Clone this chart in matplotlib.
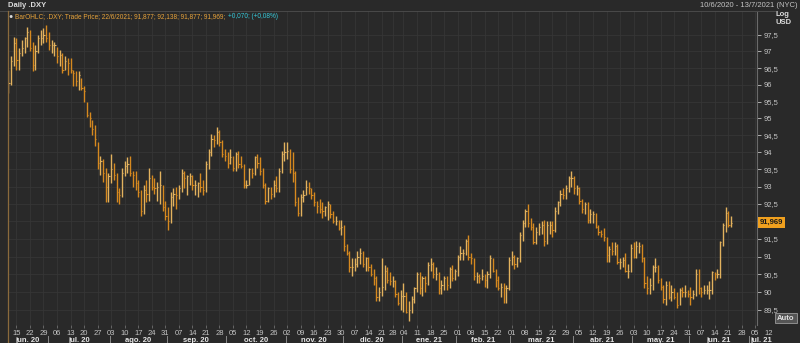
import numpy as np
import pandas as pd
import matplotlib
matplotlib.use("Agg")
import matplotlib.pyplot as plt
import matplotlib.transforms as mtransforms
from matplotlib.lines import Line2D

plt.rcParams['font.family'] = ['Liberation Sans', 'DejaVu Sans']

# Daily .DXY bars, 10/6/2020 .. 22/6/2021 (one row per month)
highs = [
    96.45, 96.85, 97.45, 97.40, 97.10, 97.35, 97.45, 97.75, 97.65, 97.30, 97.20, 97.50, 97.65, 97.70, 97.80,
    97.60, 97.35, 97.30, 97.15, 97.05, 96.95, 96.85, 96.80, 96.80, 96.45, 96.40, 96.40, 96.20, 95.95, 95.50, 95.20, 94.95, 94.80, 94.30, 93.90, 93.80, 93.55, 93.40,
    93.95, 93.70, 93.40, 92.95, 93.55, 93.75, 93.85, 93.90, 93.45, 93.45, 93.20, 92.90, 93.05, 93.20, 93.55, 93.35, 93.25, 93.15, 93.45, 93.05, 92.60,
    92.40, 92.85, 92.95, 93.00, 93.05, 93.50, 93.45, 93.35, 93.40, 93.35, 93.20, 93.15, 93.40, 93.20, 93.75, 94.10, 94.55, 94.50, 94.75, 94.65, 94.35, 94.10,
    94.00, 94.10, 93.90, 94.00, 94.05, 93.90, 93.65, 93.20, 93.55, 93.55, 93.90, 93.95, 93.85, 93.55, 93.10, 93.00, 93.00, 93.20, 93.30, 93.55, 94.05, 94.30,
    94.30, 94.10, 94.00, 93.45, 92.70, 92.80, 92.90, 93.20, 93.15, 92.95, 92.85, 92.60, 92.65, 92.55, 92.45, 92.60, 92.50, 92.30, 92.15, 92.05, 92.05,
    91.90, 91.35, 91.15, 90.95, 90.95, 91.15, 91.25, 91.15, 91.00, 91.00, 90.80, 90.65, 90.45, 90.15, 90.95, 90.75, 90.70, 90.55, 90.45, 90.35, 90.00, 90.05,
    90.25, 90.00, 89.75, 89.90, 90.15, 90.55, 90.55, 90.45, 90.45, 90.85, 90.95, 90.85, 90.70, 90.55, 90.35, 90.45, 90.45, 90.70, 90.75, 90.65,
    91.05, 91.30, 91.20, 91.50, 91.60, 91.10, 90.95, 90.55, 90.50, 90.65, 90.50, 90.60, 91.05, 90.95, 90.65, 90.45, 90.25, 90.25, 90.20, 91.00,
    91.15, 91.05, 91.00, 91.70, 92.05, 92.35, 92.50, 92.10, 91.95, 91.85, 91.95, 92.00, 92.05, 92.00, 92.00, 92.00, 92.40, 92.60, 92.90, 92.95, 93.05, 93.30, 93.45,
    93.30, 93.05, 93.00, 92.65, 92.55, 92.55, 92.35, 92.30, 92.25, 91.90, 91.75, 91.80, 91.55, 91.30, 91.40, 91.40, 91.35, 90.95, 91.00, 91.10, 90.80, 91.35,
    91.40, 91.45, 91.40, 91.35, 91.00, 90.45, 90.40, 90.75, 90.95, 90.75, 90.40, 90.20, 90.30, 90.30, 90.20, 90.10, 90.00, 90.10, 90.15, 90.20, 90.05,
    90.15, 90.05, 90.65, 90.65, 90.15, 90.20, 90.20, 90.30, 90.60, 90.55, 90.65, 91.45, 91.95, 92.40, 92.30, 92.15,
]
lows = [
    95.75, 96.00, 96.55, 96.45, 96.45, 96.85, 96.95, 97.15, 97.00, 96.40, 96.45, 96.95, 97.20, 97.25, 97.30,
    97.05, 96.95, 96.85, 96.65, 96.55, 96.35, 96.45, 96.30, 96.35, 95.95, 95.95, 95.85, 95.85, 95.50, 95.05, 94.75, 94.50, 94.20, 93.50, 93.35, 93.15, 92.55, 92.55,
    93.10, 93.20, 92.55, 92.50, 92.70, 93.30, 93.40, 93.30, 93.00, 92.90, 92.70, 92.15, 92.20, 92.55, 92.60, 92.90, 92.80, 92.60, 92.50, 92.30, 92.05,
    91.75, 91.95, 92.45, 92.35, 92.65, 92.85, 92.95, 92.75, 93.05, 92.90, 92.75, 92.70, 92.85, 92.75, 92.85, 93.50, 93.90, 94.15, 94.25, 94.20, 93.85, 93.75,
    93.55, 93.65, 93.45, 93.45, 93.55, 93.55, 92.95, 92.95, 93.05, 93.25, 93.35, 93.55, 93.35, 92.95, 92.50, 92.55, 92.65, 92.70, 92.85, 92.85, 93.40, 93.75,
    93.80, 93.40, 93.15, 92.45, 92.15, 92.15, 92.55, 92.75, 92.80, 92.65, 92.45, 92.25, 92.25, 92.10, 92.15, 92.05, 92.10, 91.95, 91.90, 91.75, 91.60,
    91.15, 91.05, 90.55, 90.45, 90.60, 90.70, 90.80, 90.70, 90.60, 90.60, 90.45, 90.20, 89.75, 89.75, 89.90, 90.05, 90.25, 90.20, 90.15, 89.85, 89.65, 89.50,
    89.45, 89.40, 89.20, 89.40, 89.70, 90.00, 89.95, 89.90, 90.00, 90.20, 90.60, 90.40, 90.35, 89.95, 89.95, 90.05, 90.05, 90.10, 90.30, 90.35,
    90.45, 90.90, 90.90, 91.05, 90.90, 90.80, 90.35, 90.25, 90.25, 90.35, 90.15, 90.10, 90.40, 90.55, 90.15, 90.05, 89.85, 89.70, 89.70, 90.05,
    90.75, 90.65, 90.70, 90.85, 91.45, 91.85, 91.85, 91.75, 91.35, 91.35, 91.60, 91.65, 91.30, 91.35, 91.65, 91.55, 91.70, 92.20, 92.45, 92.65, 92.65, 92.85, 93.00,
    92.80, 92.75, 92.50, 92.25, 92.20, 91.95, 91.95, 91.95, 91.80, 91.60, 91.55, 91.45, 90.85, 90.85, 91.05, 91.05, 90.80, 90.65, 90.70, 90.55, 90.40, 90.55,
    90.95, 90.95, 91.10, 90.85, 90.10, 89.95, 89.95, 90.05, 90.55, 90.25, 90.05, 89.70, 89.65, 89.80, 89.75, 89.80, 89.55, 89.65, 89.85, 89.85, 89.85,
    89.65, 89.80, 89.90, 89.95, 89.85, 89.95, 89.95, 89.80, 89.95, 90.35, 90.40, 90.40, 91.30, 91.70, 91.85, 91.85,
]
closes = [
    96.05, 96.70, 97.25, 96.75, 96.95, 97.10, 97.40, 97.60, 97.10, 96.60, 97.00, 97.40, 97.40, 97.50, 97.40,
    97.20, 97.20, 97.20, 96.85, 96.90, 96.45, 96.70, 96.65, 96.45, 96.35, 96.10, 96.30, 95.90, 95.80, 95.10, 95.00, 94.70, 94.40, 93.70, 93.75, 93.40, 93.00, 93.30,
    93.50, 93.35, 92.85, 92.75, 93.40, 93.60, 93.65, 93.40, 93.35, 93.10, 92.85, 92.30, 92.90, 92.80, 93.25, 93.00, 92.95, 93.00, 93.05, 92.40, 92.15,
    92.00, 92.70, 92.80, 92.75, 92.95, 93.40, 93.25, 93.30, 93.30, 93.05, 93.05, 93.10, 93.00, 92.90, 93.65, 94.00, 94.40, 94.35, 94.60, 94.30, 93.95, 93.90,
    93.70, 93.85, 93.55, 93.95, 93.65, 93.60, 93.05, 93.05, 93.50, 93.40, 93.85, 93.70, 93.45, 93.05, 92.60, 92.95, 92.80, 93.05, 92.95, 93.45, 93.95, 94.00,
    94.05, 93.50, 93.40, 92.55, 92.25, 92.70, 92.75, 93.00, 92.95, 92.75, 92.55, 92.45, 92.35, 92.30, 92.40, 92.50, 92.20, 92.00, 92.00, 91.80, 91.85,
    91.30, 91.10, 90.70, 90.70, 90.80, 91.00, 91.10, 90.80, 90.95, 90.70, 90.50, 90.40, 89.85, 90.00, 90.15, 90.60, 90.35, 90.30, 90.30, 89.95, 89.70, 89.90,
    89.90, 89.45, 89.50, 89.80, 90.10, 90.50, 90.10, 90.40, 90.25, 90.75, 90.80, 90.50, 90.50, 90.10, 90.20, 90.40, 90.20, 90.65, 90.40, 90.60,
    91.00, 91.10, 91.10, 91.45, 91.00, 90.95, 90.45, 90.45, 90.40, 90.45, 90.35, 90.50, 90.95, 90.60, 90.35, 90.10, 90.15, 90.10, 90.10, 90.90,
    91.00, 90.80, 90.95, 91.60, 91.95, 92.30, 91.95, 91.85, 91.40, 91.70, 91.85, 91.90, 91.45, 91.90, 91.90, 91.75, 92.30, 92.55, 92.80, 92.75, 92.95, 93.25, 93.25,
    92.95, 92.95, 92.60, 92.35, 92.50, 92.05, 92.20, 92.20, 91.85, 91.70, 91.65, 91.55, 91.05, 91.20, 91.15, 91.30, 90.85, 90.85, 90.90, 90.60, 90.60, 91.25,
    91.00, 91.30, 91.30, 90.95, 90.25, 90.10, 90.20, 90.70, 90.70, 90.35, 90.15, 89.80, 90.20, 89.85, 90.00, 89.85, 89.65, 90.05, 90.00, 90.00, 89.95,
    89.85, 89.95, 90.50, 90.10, 90.00, 90.05, 90.05, 90.05, 90.55, 90.50, 90.50, 91.40, 91.90, 92.25, 91.90, 91.95,
]

closed_days = ["2020-12-25", "2021-01-01"]
month_names = ["ene.", "feb.", "mar.", "abr.", "may.", "jun.",
               "jul.", "ago.", "sep.", "oct.", "nov.", "dic."]
y_ticks = [89.5, 90, 90.5, 91, 91.5, 92, 92.5, 93, 93.5, 94, 94.5, 95, 95.5, 96, 96.5, 97, 97.5]
last_price = 91.969
header = "BarOHLC; .DXY; Trade Price; 22/6/2021; 91,877; 92,138; 91,877; 91,969;"
header_chg = "+0,070; (+0,08%)"

BG = "#292929"
GRID = "#363636"
UP = "#e2b25e"
DOWN = "#d6891f"
TXT = "#c4c4c4"

# trading-day axis (weekdays, market holidays removed), runs past the data
days = pd.bdate_range("2020-06-10", "2021-07-13")
days = days[~days.isin(pd.to_datetime(closed_days))]
n = len(closes)
x = np.arange(n)
c = np.array(closes)
up = np.r_[True, np.diff(c) >= 0]
colors = np.where(up, UP, DOWN)

W, H = 800, 343
fig = plt.figure(figsize=(W / 100, H / 100), dpi=100)
fig.patch.set_facecolor(BG)
ax = fig.add_axes([8 / W, (H - 325) / H, 749 / W, 314 / H])
ax.set_facecolor(BG)

ax.vlines(x, lows, highs, colors=colors, lw=1.0)
ax.hlines(closes, x, x + 0.45, colors=colors, lw=0.8)

ax.set_yscale("log")
ax.set_ylim(89.08, 98.23)
ax.set_xlim(-0.11, 276.6)

ax.yaxis.tick_right()
ax.set_yticks(y_ticks)
# the 92 label sits under the last-price tag
ax.set_yticklabels(["" if v == 92 else f"{v:g}".replace(".", ",") for v in y_ticks])
ax.yaxis.set_minor_locator(matplotlib.ticker.NullLocator())
ax.tick_params(axis="y", colors=TXT, labelsize=5.5, length=3, width=0.6, pad=2)

mondays = [i for i, d in enumerate(days) if d.weekday() == 0]
ax.set_xticks([i for i in mondays if i <= 276.6])
ax.set_xticklabels([])
ax.tick_params(axis="x", colors="#707070", length=2.5, width=0.6)
ax.grid(True, color=GRID, lw=0.6)

for s in ["top", "left", "bottom"]:
    ax.spines[s].set_visible(False)
ax.spines["right"].set_color("#6a6a6a")
ax.spines["right"].set_linewidth(0.8)

# x labels: day numbers, then month names with separators
tr = mtransforms.blended_transform_factory(ax.transData, ax.transAxes)
for i in mondays:
    ax.text(i, -0.026, days[i].strftime("%d"), transform=tr, ha="center", va="center",
            fontsize=5.5, color=TXT, clip_on=False)
months = pd.Series(range(len(days)), index=days).groupby([days.year, days.month])
for (yy, mm), idx in months:
    first, last = idx.iloc[0], idx.iloc[-1]
    if first > 0:
        ax.add_line(Line2D([first - 0.5, first - 0.5], [-0.036, -0.06], transform=tr,
                           color="#8a8a8a", lw=0.7, clip_on=False))
    ax.text((first + last) / 2, -0.05, f"{month_names[mm - 1]} {yy % 100}", transform=tr,
            ha="center", va="center", fontsize=5.5, fontweight="bold", color="#e6e6e6",
            clip_on=False)

# last price tag
ty = mtransforms.blended_transform_factory(ax.transAxes, ax.transData)
ax.text(1.004, last_price, f"{last_price:.3f}".replace(".", ","), transform=ty,
        ha="left", va="center", fontsize=5.5, fontweight="bold", color="#1a1a1a",
        bbox=dict(boxstyle="square,pad=0.2", fc="#f0a01e", ec="none"))

# header and frame decorations
def px(xp, yp):
    return xp / W, 1 - yp / H

fig.text(*px(8, 5.5), "Daily .DXY", fontsize=5.5, fontweight="bold", color="#dcdcdc", va="center")
fig.text(*px(797, 5.5), "10/6/2020 - 13/7/2021 (NYC)", fontsize=5.5, color=TXT, va="center", ha="right")
fig.add_artist(Line2D([0, 775 / W], [1 - 10.5 / H] * 2, color="#4a4a4a", lw=0.7))
fig.add_artist(Line2D([7.5 / W] * 2, [0, 1 - 10.5 / H], color="#8a6a3c", lw=0.9))
fig.text(*px(775, 14), "Log", fontsize=5.5, fontweight="bold", color="#dcdcdc", va="center")
fig.text(*px(775, 23), "USD", fontsize=5.5, fontweight="bold", color="#dcdcdc", va="center")
fig.text(*px(11, 16.5), "\u25cf", fontsize=5, color="#d8d8d8", va="center", ha="center")
t1 = fig.text(*px(15, 16.5), header, fontsize=4.7, color="#e8a33a", va="center")
fig.canvas.draw()
bb = t1.get_window_extent()
fig.text((bb.x1 + 3) / W, 1 - 16.5 / H, header_chg, fontsize=4.7, color="#35c8d8", va="center")
fig.text(*px(786, 318), "Auto", fontsize=5.5, fontweight="bold", color="#e0e0e0", va="center", ha="center",
         bbox=dict(boxstyle="square,pad=0.25", fc="#555555", ec="#9a9a9a", lw=0.6))

fig.savefig("out.png", dpi=100, facecolor=fig.get_facecolor())
